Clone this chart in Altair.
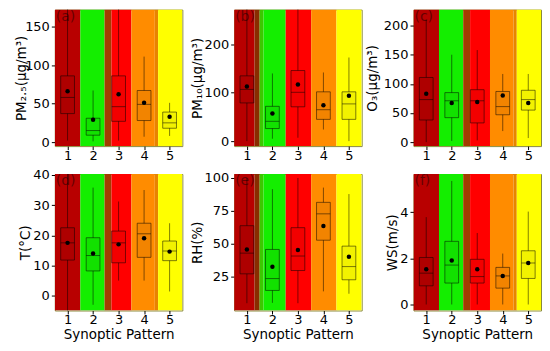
import altair as alt
import pandas as pd

patterns = [1, 2, 3, 4, 5]

# PM2.5
pm25_low = [2, 1, 2, 7, 8]
pm25_q1 = [37, 9, 27, 28, 18]
pm25_med = [58, 15, 46, 49, 25]
pm25_q3 = [86, 31, 86, 67, 39]
pm25_high = [180, 67, 180, 111, 51]
pm25_mean = [66, 29, 62, 51, 33]

# PM10
pm10_low = [0, 5, 7, 24, 0]
pm10_q1 = [79, 26, 71, 45, 45]
pm10_med = [107, 41, 101, 65, 77]
pm10_q3 = [135, 72, 146, 102, 102]
pm10_high = [300, 140, 300, 142, 173]
pm10_mean = [113, 57, 117, 74, 94]

# O3
o3_low = [0, 2, 3, 19, 7]
o3_q1 = [38, 42, 33, 47, 55]
o3_med = [73, 71, 71, 61, 73]
o3_q3 = [111, 85, 90, 87, 89]
o3_high = [210, 150, 158, 117, 117]
o3_mean = [83, 67, 69, 80, 67]

# Temperature
t_low = [-6, -3, 5, 5, 1.4]
t_q1 = [11.8, 8.2, 10.9, 12.7, 11.6]
t_med = [17.5, 13.3, 17.5, 20.5, 14.8]
t_q3 = [22.5, 19.2, 21.4, 24.0, 18.1]
t_high = [41, 35.8, 31.2, 35.0, 24.0]
t_mean = [17.5, 14.0, 17.0, 19.0, 14.6]

# Relative humidity
rh_low = [5, 5.3, 5, 14, 12.2]
rh_q1 = [27.3, 14.7, 29.8, 52.8, 22.8]
rh_med = [43.0, 23.7, 40.8, 72.8, 32.8]
rh_q3 = [63.8, 45.8, 62.3, 81.5, 48.3]
rh_high = [100, 91.5, 100, 92.7, 87.8]
rh_mean = [45.8, 32.7, 45.3, 63.5, 40.3]

# Wind speed
ws_low = [0, 0, 0, 0, 0]
ws_q1 = [0.81, 0.93, 0.93, 0.71, 1.13]
ws_med = [1.36, 1.71, 1.21, 1.24, 1.80]
ws_q3 = [2.04, 2.74, 1.96, 1.61, 2.33]
ws_high = [3.79, 5.36, 3.10, 2.21, 4.03]
ws_mean = [1.53, 1.91, 1.53, 1.24, 1.80]

# background bands
bands_a_start = [0.5, 1.5, 2.45, 2.72, 3.5, 4.42, 4.55]
bands_a_end = [1.5, 2.45, 2.72, 3.5, 4.42, 4.55, 5.5]
bands_a_color = ["#b80000", "#14ee00", "#a33c00", "#ff0000", "#ff8c00", "#e88400", "#ffff00"]
bands_b_start = [0.5, 1.3, 1.5, 1.65, 2.52, 3.52, 4.51]
bands_b_end = [1.3, 1.5, 1.65, 2.52, 3.52, 4.51, 5.5]
bands_b_color = ["#b80000", "#8a2c00", "#3cc800", "#14ee00", "#ff0000", "#ff8c00", "#ffff00"]

W, H = 128, 137
HALF = 0.27


def panel(ytitle, lo, q1, med, q3, hi, mean, domain, ticks, letter, bands, tx, xtitle):
    df = pd.DataFrame({"p": patterns, "lo": lo, "q1": q1, "med": med,
                       "q3": q3, "hi": hi, "mean": mean})
    bdf = pd.DataFrame({"s": bands[0], "e": bands[1], "c": bands[2]})
    xs = alt.Scale(domain=[0.5, 5.5], nice=False, zero=False)
    ys = alt.Scale(domain=domain, nice=False, zero=False)
    xaxis = alt.Axis(values=patterns, format="d", title=xtitle if xtitle else None,
                     labelPadding=0, titlePadding=1)
    yaxis = alt.Axis(values=ticks, title=ytitle, titleX=tx, titleY=H / 2,
                     titleBaseline="alphabetic", titleAngle=270, labelPadding=2)

    bg = alt.Chart(bdf).mark_rect(clip=True).encode(
        x=alt.X("s:Q", scale=xs, axis=xaxis), x2="e:Q",
        y=alt.value(0), y2=alt.value(H),
        color=alt.Color("c:N", scale=None))
    base = alt.Chart(df).transform_calculate(
        xl=f"datum.p - {HALF}", xr=f"datum.p + {HALF}")
    wlo = base.mark_rule(color="black", opacity=0.5, strokeWidth=1, clip=True).encode(
        x=alt.X("p:Q", scale=xs, axis=xaxis),
        y=alt.Y("lo:Q", scale=ys, axis=yaxis), y2="q1:Q")
    whi = base.mark_rule(color="black", opacity=0.5, strokeWidth=1, clip=True).encode(
        x=alt.X("p:Q", scale=xs, axis=xaxis),
        y=alt.Y("q3:Q", scale=ys, axis=yaxis), y2="hi:Q")
    box = base.mark_rect(fill="black", fillOpacity=0.05, stroke="black",
                         strokeOpacity=0.5, strokeWidth=1).encode(
        x=alt.X("xl:Q", scale=xs, axis=xaxis), x2="xr:Q",
        y=alt.Y("q1:Q", scale=ys, axis=yaxis), y2="q3:Q")
    medl = base.mark_rule(color="black", opacity=0.5, strokeWidth=1).encode(
        x=alt.X("xl:Q", scale=xs, axis=xaxis), x2="xr:Q",
        y=alt.Y("med:Q", scale=ys, axis=yaxis))
    meanp = base.mark_point(filled=True, color="black", size=20, opacity=1).encode(
        x=alt.X("p:Q", scale=xs, axis=xaxis),
        y=alt.Y("mean:Q", scale=ys, axis=yaxis))
    lab = alt.Chart(pd.DataFrame({"t": [letter]})).mark_text(
        align="left", baseline="top", fontSize=14, color="black", opacity=0.45,
        font="DejaVu Sans").encode(
        x=alt.value(1), y=alt.value(0), text="t:N")
    return alt.layer(bg, wlo, whi, box, medl, meanp, lab).properties(width=W, height=H)


bands_a = (bands_a_start, bands_a_end, bands_a_color)
bands_b = (bands_b_start, bands_b_end, bands_b_color)

pa = panel("PM₂.₅(μg/m³)", pm25_low, pm25_q1, pm25_med, pm25_q3, pm25_high, pm25_mean,
           [-5.2, 172], [0, 50, 100, 150], "(a)", bands_a, -29, "")
pb = panel("PM₁₀(μg/m³)", pm10_low, pm10_q1, pm10_med, pm10_q3, pm10_high, pm10_mean,
           [-10.3, 272], [0, 100, 200], "(b)", bands_b, -33, "")
pc = panel("O₃(μg/m³)", o3_low, o3_q1, o3_med, o3_q3, o3_high, o3_mean,
           [-6.8, 227.4], [0, 50, 100, 150, 200], "(c)", bands_a, -37, "")
pd_ = panel("T(°C)", t_low, t_q1, t_med, t_q3, t_high, t_mean,
            [-4.9, 40.3], [0, 10, 20, 30, 40], "(d)", bands_a, -25, "Synoptic Pattern")
pe = panel("RH(%)", rh_low, rh_q1, rh_med, rh_q3, rh_high, rh_mean,
           [-0.5, 103], [25, 50, 75, 100], "(e)", bands_b, -33, "Synoptic Pattern")
pf = panel("WS(m/s)", ws_low, ws_q1, ws_med, ws_q3, ws_high, ws_mean,
           [-0.26, 5.66], [0, 2, 4], "(f)", bands_a, -17, "Synoptic Pattern")

chart = alt.concat(pa, pb, pc, pd_, pe, pf, columns=3,
                   spacing={"row": 28, "column": 52}, bounds="flush").properties(
    padding={"left": 6, "top": 0, "right": 0, "bottom": 0}
).configure(font="DejaVu Sans").configure_view(
    stroke="#8a8a3a", strokeWidth=1
).configure_axis(
    labelFont="DejaVu Sans", labelFontSize=13, labelColor="black",
    titleFont="DejaVu Sans", titleFontSize=13.5, titleFontWeight="normal",
    titleColor="black", grid=False, domain=False, tickColor="black",
    tickSize=3.5
)

chart.save("out.html", embed_options={"renderer": "svg", "actions": False})
